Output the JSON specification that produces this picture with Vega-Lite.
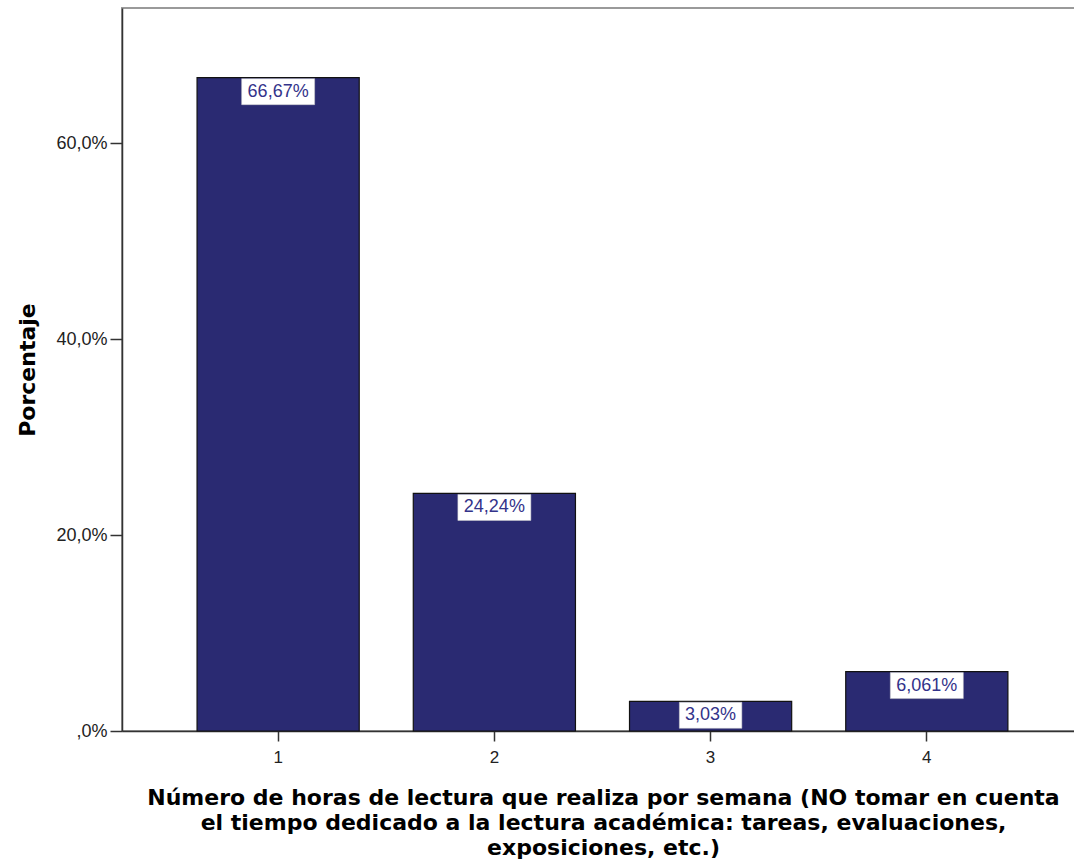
{
  "$schema": "https://vega.github.io/schema/vega-lite/v6.json",
  "width": 953,
  "height": 723,
  "autosize": {"type": "none"},
  "padding": {"left": 122, "top": 8, "right": 0, "bottom": 135},
  "background": "white",
  "config": {"view": {"stroke": "#9a9a9a", "strokeWidth": 2}},
  "data": {"values": [
    {"hours": "1", "pct": 66.67, "label": "66,67%"},
    {"hours": "2", "pct": 24.24, "label": "24,24%"},
    {"hours": "3", "pct": 3.03, "label": "3,03%"},
    {"hours": "4", "pct": 6.061, "label": "6,061%"}
  ]},
  "transform": [{"calculate": "length(datum.label) * 10.5 + 10", "as": "bw"}],
  "encoding": {
    "x": {
      "field": "hours", "type": "nominal", "sort": null,
      "scale": {"paddingInner": 0.25, "paddingOuter": 0.3287, "align": 0.528},
      "axis": {
        "labelAngle": 0, "domainColor": "#333333", "domainWidth": 1.5,
        "tickColor": "#333333", "tickWidth": 1.5, "tickSize": 10,
        "labelFont": "Liberation Sans", "labelFontSize": 17, "labelColor": "#222222", "labelPadding": 8,
        "title": ["Número de horas de lectura que realiza por semana (NO tomar en cuenta", "el tiempo dedicado a la lectura académica: tareas, evaluaciones,", "exposiciones, etc.)"],
        "titleFont": "DejaVu Sans", "titleFontWeight": "bold", "titleFontSize": 22, "titleColor": "#000000",
        "titleLineHeight": 25, "titleBaseline": "top", "titleY": 56, "titleX": 481
      }
    }
  },
  "layer": [
    {
      "mark": {"type": "bar", "fill": "#2a2a72", "stroke": "#111111", "strokeWidth": 1.2},
      "encoding": {
        "y": {
          "field": "pct", "type": "quantitative",
          "scale": {"domain": [0, 73.78], "nice": false},
          "axis": {
            "values": [0, 20, 40, 60], "grid": false,
            "labelExpr": "datum.value == 0 ? ',0%' : replace(format(datum.value, '.1f'), '.', ',') + '%'",
            "domainColor": "#333333", "domainWidth": 1.5,
            "tickColor": "#333333", "tickWidth": 1.5, "tickSize": 12,
            "labelFont": "Liberation Sans", "labelFontSize": 18, "labelColor": "#222222", "labelPadding": 3,
            "title": "Porcentaje", "titleFont": "DejaVu Sans", "titleFontWeight": "bold", "titleFontSize": 22,
            "titleColor": "#000000", "titleX": -95, "titleY": 361.5, "titleAngle": -90,
            "titleAlign": "center", "titleBaseline": "middle"
          }
        }
      }
    },
    {
      "mark": {"type": "bar", "fill": "white", "stroke": "#cccccc", "strokeWidth": 0.5, "yOffset": 1, "y2Offset": 27},
      "encoding": {
        "y": {"field": "pct", "type": "quantitative"},
        "y2": {"field": "pct"},
        "size": {"field": "bw", "type": "quantitative", "scale": null}
      }
    },
    {
      "mark": {"type": "text", "dy": 14, "baseline": "middle", "align": "center", "color": "#33338a", "font": "Liberation Sans", "fontSize": 18},
      "encoding": {
        "y": {"field": "pct", "type": "quantitative"},
        "text": {"field": "label"}
      }
    }
  ]
}
